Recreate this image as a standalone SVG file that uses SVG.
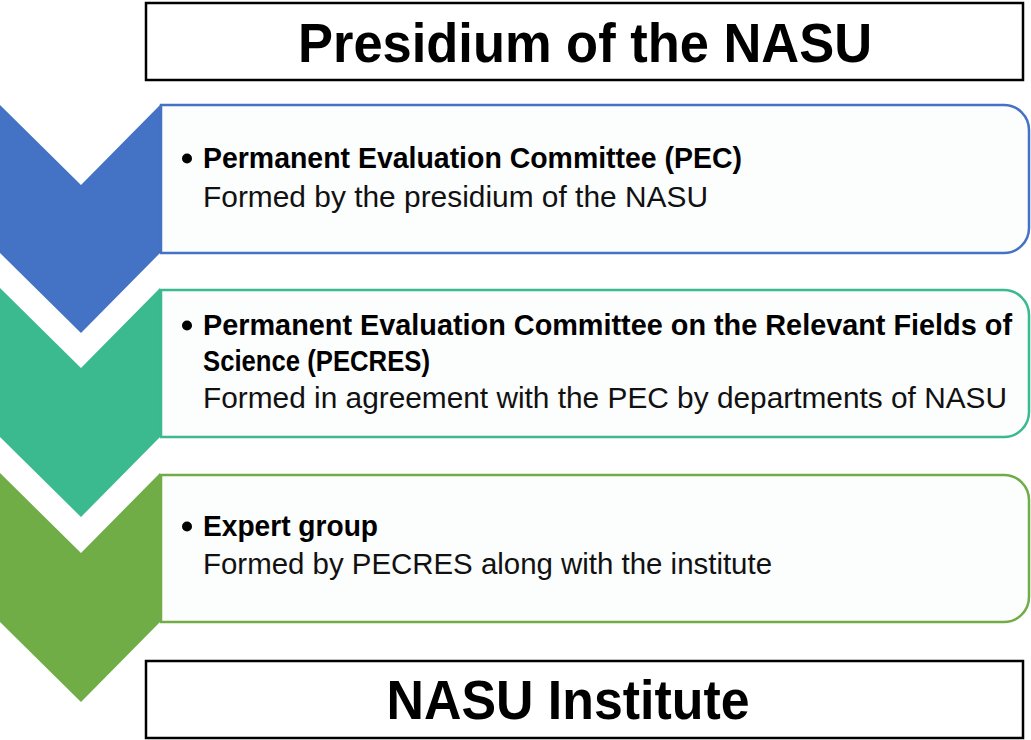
<svg xmlns="http://www.w3.org/2000/svg" width="1031" height="740" viewBox="0 0 1031 740">
<style>
.title{font-family:"Liberation Sans",Arial,sans-serif;font-weight:bold;font-size:56px;fill:#000;text-anchor:middle}
.hd{font-family:"Liberation Sans",Arial,sans-serif;font-weight:bold;font-size:29px;fill:#000}
.tx{font-family:"Liberation Sans",Arial,sans-serif;font-size:29px;fill:#111}
.frame{fill:#fff;stroke:#000;stroke-width:2.5}
.card{fill:#fcfdfd;stroke-width:2.5}
</style>
<rect width="1031" height="740" fill="#fff"/>
<g id="connectors">
  <polygon points="0,105 81,185 160,105 160,253 81,333 0,253" fill="#4472c4"/>
  <polygon points="0,288 81,368 160,288 160,437 81,517 0,437" fill="#3bb98f"/>
  <polygon points="0,473 81,553 160,473 160,622 81,702 0,622" fill="#70ad47"/>
</g>
<g id="presidium">
  <rect class="frame" x="146" y="3" width="877" height="77"/>
  <text class="title" x="585" y="62" textLength="574" lengthAdjust="spacingAndGlyphs">Presidium of the NASU</text>
</g>
<g id="pec">
  <path class="card" stroke="#4472c4" d="M161,105 H1004 A25,25 0 0 1 1029,130 V228 A25,25 0 0 1 1004,253 H161 Z"/>
  <circle cx="187" cy="158.5" r="5" fill="#000"/>
  <text class="hd" x="203" y="168" textLength="539" lengthAdjust="spacingAndGlyphs">Permanent Evaluation Committee (PEC)</text>
  <text class="tx" x="203" y="207" textLength="505" lengthAdjust="spacingAndGlyphs">Formed by the presidium of the NASU</text>
</g>
<g id="pecres">
  <path class="card" stroke="#3bb98f" d="M161,290 H1004 A25,25 0 0 1 1029,315 V412 A25,25 0 0 1 1004,437 H161 Z"/>
  <circle cx="187" cy="325.5" r="5" fill="#000"/>
  <text class="hd" x="203" y="335" textLength="809" lengthAdjust="spacingAndGlyphs">Permanent Evaluation Committee on the Relevant Fields of</text>
  <text class="hd" x="203" y="371" textLength="227" lengthAdjust="spacingAndGlyphs">Science (PECRES)</text>
  <text class="tx" x="203" y="408" textLength="804" lengthAdjust="spacingAndGlyphs">Formed in agreement with the PEC by departments of NASU</text>
</g>
<g id="expert">
  <path class="card" stroke="#70ad47" d="M161,475 H1004 A25,25 0 0 1 1029,500 V597 A25,25 0 0 1 1004,622 H161 Z"/>
  <circle cx="187" cy="526.5" r="5" fill="#000"/>
  <text class="hd" x="203" y="536" textLength="175" lengthAdjust="spacingAndGlyphs">Expert group</text>
  <text class="tx" x="203" y="574" textLength="569" lengthAdjust="spacingAndGlyphs">Formed by PECRES along with the institute</text>
</g>
<g id="institute">
  <rect class="frame" x="146" y="661" width="877" height="77"/>
  <text class="title" x="568" y="719" textLength="363" lengthAdjust="spacingAndGlyphs">NASU Institute</text>
</g>
</svg>
